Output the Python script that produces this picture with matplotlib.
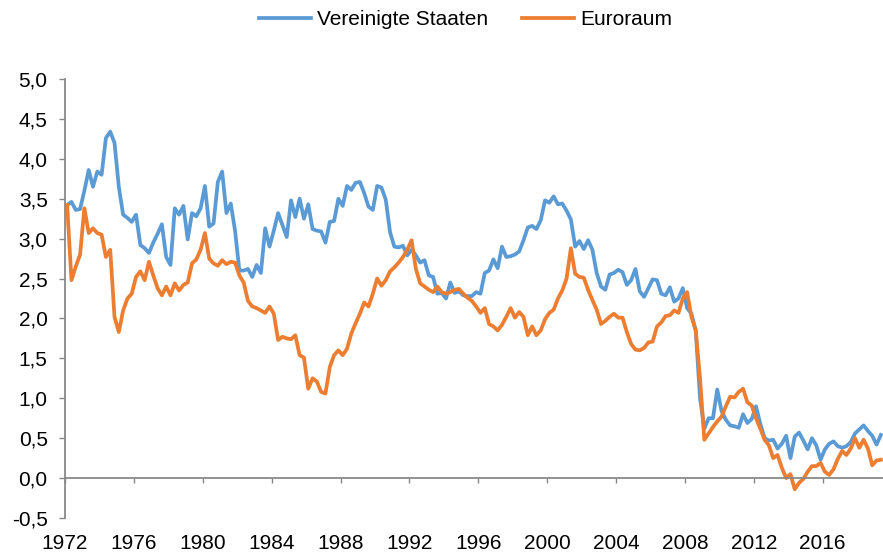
import numpy as np
import matplotlib
matplotlib.use("Agg")
import matplotlib.pyplot as plt
from matplotlib.ticker import FuncFormatter

plt.rcParams['font.family'] = ['Liberation Sans', 'DejaVu Sans']

# quarterly values, 1972Q1 .. 2019Q2
us_values = [
    3.42, 3.46, 3.36, 3.37, 3.60, 3.86, 3.65, 3.84, 3.80, 4.26,
    4.34, 4.20, 3.65, 3.30, 3.26, 3.21, 3.30, 2.92, 2.88, 2.82,
    2.95, 3.06, 3.18, 2.77, 2.67, 3.38, 3.30, 3.41, 2.99, 3.32,
    3.28, 3.38, 3.66, 3.15, 3.19, 3.71, 3.84, 3.32, 3.44, 3.10,
    2.60, 2.60, 2.62, 2.52, 2.67, 2.57, 3.13, 2.90, 3.10, 3.32,
    3.17, 3.02, 3.48, 3.27, 3.50, 3.25, 3.43, 3.12, 3.10, 3.09,
    2.95, 3.21, 3.22, 3.50, 3.41, 3.66, 3.61, 3.70, 3.71, 3.57,
    3.40, 3.36, 3.66, 3.64, 3.49, 3.08, 2.90, 2.89, 2.91, 2.79,
    2.86, 2.79, 2.70, 2.73, 2.54, 2.52, 2.31, 2.32, 2.25, 2.45,
    2.32, 2.34, 2.29, 2.28, 2.28, 2.33, 2.31, 2.57, 2.60, 2.74,
    2.63, 2.90, 2.77, 2.78, 2.80, 2.84, 2.98, 3.14, 3.16, 3.12,
    3.23, 3.48, 3.45, 3.53, 3.43, 3.44, 3.35, 3.24, 2.90, 2.97,
    2.87, 2.98, 2.86, 2.57, 2.40, 2.36, 2.55, 2.57, 2.61, 2.58,
    2.42, 2.48, 2.62, 2.34, 2.27, 2.38, 2.49, 2.48, 2.31, 2.29,
    2.39, 2.21, 2.25, 2.38, 2.13, 2.06, 1.85, 1.00, 0.62, 0.75,
    0.75, 1.11, 0.84, 0.73, 0.66, 0.65, 0.63, 0.80, 0.69, 0.74,
    0.90, 0.68, 0.50, 0.47, 0.48, 0.37, 0.43, 0.53, 0.25, 0.52,
    0.57, 0.47, 0.36, 0.50, 0.41, 0.23, 0.36, 0.43, 0.46, 0.40,
    0.38, 0.40, 0.45, 0.56, 0.61, 0.66, 0.59, 0.53, 0.42, 0.54,
]
ez_values = [
    3.42, 2.48, 2.65, 2.80, 3.38, 3.07, 3.13, 3.07, 3.05, 2.77,
    2.86, 2.02, 1.83, 2.10, 2.25, 2.31, 2.52, 2.59, 2.48, 2.71,
    2.54, 2.38, 2.29, 2.40, 2.29, 2.44, 2.35, 2.42, 2.45, 2.69,
    2.74, 2.86, 3.07, 2.75, 2.69, 2.66, 2.73, 2.68, 2.71, 2.70,
    2.54, 2.45, 2.22, 2.15, 2.13, 2.10, 2.07, 2.15, 2.06, 1.73,
    1.77, 1.75, 1.74, 1.79, 1.54, 1.51, 1.12, 1.25, 1.21, 1.08,
    1.06, 1.39, 1.54, 1.60, 1.54, 1.62, 1.81, 1.94, 2.06, 2.20,
    2.15, 2.31, 2.50, 2.41, 2.48, 2.59, 2.64, 2.70, 2.77, 2.86,
    2.98, 2.62, 2.44, 2.40, 2.36, 2.33, 2.40, 2.33, 2.31, 2.33,
    2.36, 2.37, 2.31, 2.26, 2.22, 2.15, 2.07, 2.13, 1.93, 1.90,
    1.85, 1.92, 2.02, 2.13, 2.01, 2.08, 2.02, 1.79, 1.90, 1.79,
    1.85, 1.99, 2.07, 2.11, 2.25, 2.35, 2.50, 2.88, 2.56, 2.52,
    2.51, 2.36, 2.23, 2.11, 1.93, 1.97, 2.02, 2.06, 2.01, 2.01,
    1.83, 1.68, 1.61, 1.60, 1.63, 1.70, 1.71, 1.90, 1.95, 2.03,
    2.04, 2.10, 2.07, 2.25, 2.33, 2.02, 1.85, 1.25, 0.48, 0.56,
    0.64, 0.71, 0.77, 0.90, 1.02, 1.01, 1.08, 1.12, 0.95, 0.91,
    0.75, 0.62, 0.48, 0.41, 0.25, 0.29, 0.13, 0.00, 0.05, -0.14,
    -0.06, -0.01, 0.08, 0.15, 0.15, 0.19, 0.08, 0.04, 0.11, 0.24,
    0.34, 0.29, 0.37, 0.50, 0.38, 0.48, 0.37, 0.16, 0.22, 0.23,
]
start_year = 1972
tick_years = list(range(1972, 2017, 4))
y_ticks = [-0.5, 0.0, 0.5, 1.0, 1.5, 2.0, 2.5, 3.0, 3.5, 4.0, 4.5, 5.0]

n = len(us_values)
x = start_year + (np.arange(n) + 0.5) / 4.0

fig = plt.figure(figsize=(8.83, 5.53), dpi=100)
ax = fig.add_axes([65 / 883, 1 - 518 / 553, 818 / 883, (518 - 79) / 553])

ax.plot(x, us_values, color='#5B9BD5', lw=2.7, label='Vereinigte Staaten', solid_joinstyle='round')
ax.plot(x, ez_values, color='#ED7D31', lw=2.7, label='Euroraum', solid_joinstyle='round')

ax.set_xlim(start_year, start_year + n / 4.0)
ax.set_ylim(-0.5, 5.0)
ax.set_yticks(y_ticks)
ax.yaxis.set_major_formatter(FuncFormatter(lambda v, p: f"{v:.1f}".replace('.', ',')))
ax.set_xticks(tick_years)
ax.set_xticklabels([str(y) for y in tick_years])

gray = '#898989'
for s in ['top', 'right']:
    ax.spines[s].set_visible(False)
ax.spines['left'].set_color(gray)
ax.spines['left'].set_linewidth(1.3)
ax.spines['bottom'].set_position(('data', 0))
ax.spines['bottom'].set_color(gray)
ax.spines['bottom'].set_linewidth(1.3)
ax.tick_params(axis='y', direction='out', length=4.5, width=1, color=gray,
               labelsize=15, pad=8, labelcolor='#000000')
ax.tick_params(axis='x', direction='out', length=3.6, width=1, color=gray,
               labelsize=15, pad=37, labelcolor='#000000')

fig.legend(loc='center', bbox_to_anchor=(0.527, 0.964), ncol=2, frameon=False,
           fontsize=15, handlelength=2.5, handletextpad=0.3, columnspacing=1.6)

fig.savefig('out.png', dpi=100)
